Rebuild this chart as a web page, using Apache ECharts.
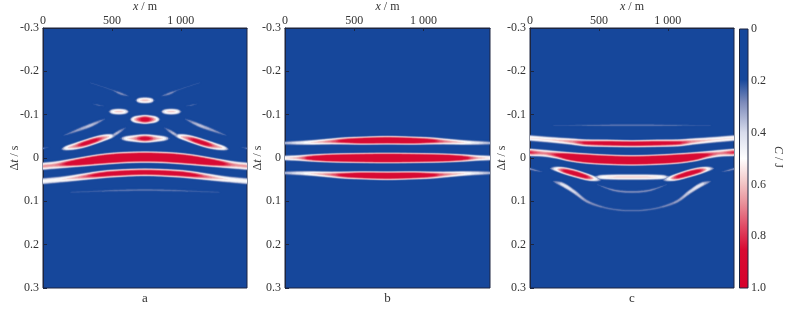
<!DOCTYPE html>
<html><head><meta charset="utf-8">
<style>html,body{margin:0;padding:0;background:#fff}#c{width:798px;height:315px}</style>
<script src="https://cdn.jsdelivr.net/npm/echarts@6/dist/echarts.min.js"></script>
</head><body><div id="c"></div>
<script>
// tick labels
const xTicks = ['0', '500', '1 000'];
const yTicks = [-0.3, -0.2, -0.1, 0, 0.1, 0.2, 0.3];
const barTicks = [0, 0.2, 0.4, 0.6, 0.8, 1.0];
const panelNames = ['a', 'b', 'c'];
// colour scale C -> colour
const scaleValues = [0, 0.196, 0.285, 0.4, 0.5, 0.59, 0.67, 0.76, 0.85, 1.0];
const scaleColors = ['#16479b', '#16479b', '#7d8bbb', '#d8dcec', '#ffffff', '#f3c9c9', '#e9929b', '#e14b66', '#d80a33', '#d6002c'];
// contour levels of C
const levels = [.22,.25,.28,.31,.34,.37,.40,.43,.46,.49,.52,.55,.58,.61,.64,.67,.70,.73,.76,.79,.82,.85];

// ridges: [x (m), dt (s), C (over 1 = saturated core), half thickness (s)]
const aMain = [[0,.019,.68,.0105],[100,.016,.72,.0105],[200,.012,1,.0105],[300,.008,1.3,.0115],[400,.004,1.5,.0125],[500,.001,1.6,.013],[600,-.001,1.6,.013],[740,-.002,1.6,.013],[880,-.001,1.6,.013],[980,.001,1.6,.013],[1080,.004,1.5,.0125],[1180,.008,1.3,.0115],[1280,.012,1,.0105],[1380,.016,.72,.0105],[1480,.019,.68,.0105]];
const aSecond = [[0,.0535,.52,.0095],[150,.049,.56,.009],[300,.043,.75,.009],[400,.039,.95,.009],[500,.036,1.05,.009],[740,.033,1.1,.0085],[980,.036,1.05,.009],[1080,.039,.95,.009],[1180,.043,.75,.009],[1330,.049,.56,.009],[1480,.0535,.52,.0095]];
const aLensL = [[130,-.020,.25,.004],[170,-.023,.55,.0065],[230,-.027,.72,.009],[300,-.033,.95,.0095],[370,-.040,.95,.0095],[440,-.0465,.72,.009],[490,-.05,.55,.0065],[520,-.052,.3,.004]];
const aLensR = [[960,-.052,.3,.004],[990,-.05,.55,.0065],[1040,-.0465,.72,.009],[1110,-.040,.95,.0095],[1180,-.033,.95,.0095],[1250,-.027,.72,.009],[1310,-.023,.55,.0065],[1350,-.020,.25,.004]];
const aLensC = [[560,-.045,.25,.004],[600,-.045,.52,.007],[660,-.045,.68,.0095],[740,-.045,.95,.0105],[820,-.045,.68,.0095],[880,-.045,.52,.007],[920,-.045,.25,.004]];
const aBlob1 = [[630,-.089,.25,.004],[660,-.089,.6,.009],[700,-.089,.85,.0105],[740,-.089,1.05,.011],[780,-.089,.85,.0105],[820,-.089,.6,.009],[850,-.089,.25,.004]];
const aBlob2 = [[670,-.133,.25,.004],[695,-.133,.52,.007],[740,-.133,.62,.0085],[785,-.133,.52,.007],[810,-.133,.25,.004]];
const aPairL = [[475,-.107,.25,.004],[505,-.107,.52,.007],[550,-.107,.6,.0085],[595,-.107,.52,.007],[625,-.107,.25,.004]];
const aPairR = [[855,-.107,.25,.004],[885,-.107,.52,.007],[930,-.107,.6,.0085],[975,-.107,.52,.007],[1005,-.107,.25,.004]];
const aStreakL = [[150,-.052,.24,.005],[250,-.064,.33,.0065],[350,-.076,.38,.007],[450,-.09,.25,.005]];
const aStreakR = [[1030,-.09,.25,.005],[1130,-.076,.38,.007],[1230,-.064,.33,.0065],[1330,-.052,.24,.005]];
const aLinkL = [[480,-.046,.26,.005],[530,-.056,.38,.0065],[600,-.07,.25,.005]];
const aLinkR = [[880,-.07,.25,.005],[950,-.056,.38,.0065],[1000,-.046,.26,.005]];
const aUpL = [[340,-.174,.23,.004],[500,-.157,.25,.005],[560,-.149,.31,.006],[620,-.143,.24,.005]];
const aUpR = [[860,-.143,.24,.005],[920,-.149,.31,.006],[980,-.157,.25,.005],[1140,-.174,.23,.004]];
const aFaintL = [[360,-.125,.23,.003],[400,-.122,.26,.005],[440,-.12,.23,.003]];
const aFaintR = [[1040,-.12,.23,.003],[1080,-.122,.26,.005],[1120,-.125,.23,.003]];
const aEdgeL = [[0,-.022,.28,.005],[40,-.025,.23,.004]];
const aEdgeR = [[1440,-.025,.23,.004],[1480,-.022,.28,.005]];
const aBelow = [[200,.079,.23,.007],[740,.074,.27,.007],[1280,.079,.23,.007]];

const bMid = [[0,0,.55,.007],[100,0,.68,.0075],[180,0,.95,.0085],[300,0,1.4,.0095],[450,0,1.7,.0105],[740,0,1.8,.0115],[1030,0,1.7,.0105],[1180,0,1.4,.0095],[1300,0,.95,.0085],[1380,0,.68,.0075],[1480,0,.55,.007]];
const bUpper = [[0,-.0345,.36,.0055],[100,-.035,.46,.006],[200,-.036,.58,.0065],[320,-.038,.72,.0075],[430,-.0395,.95,.0085],[560,-.04,1.25,.009],[740,-.041,1.35,.0095],[920,-.04,1.25,.009],[1050,-.0395,.95,.0085],[1160,-.038,.72,.0075],[1280,-.036,.58,.0065],[1380,-.035,.46,.006],[1480,-.0345,.36,.0055]];
const bLower = [[0,.0345,.36,.0055],[100,.035,.46,.006],[200,.036,.58,.0065],[320,.038,.72,.0075],[430,.0395,.95,.0085],[560,.04,1.25,.009],[740,.041,1.35,.0095],[920,.04,1.25,.009],[1050,.0395,.95,.0085],[1160,.038,.72,.0075],[1280,.036,.58,.0065],[1380,.035,.46,.006],[1480,.0345,.36,.0055]];

const cFirst = [[0,-.046,.56,.0085],[150,-.042,.58,.0085],[300,-.038,.7,.0085],[400,-.035,.88,.0085],[560,-.034,1,.0085],[740,-.033,1.05,.008],[920,-.034,1,.0085],[1080,-.035,.88,.0085],[1180,-.038,.7,.0085],[1330,-.042,.58,.0085],[1480,-.046,.56,.0085]];
const cSecond = [[0,-.013,.85,.0095],[100,-.011,.72,.0095],[200,-.007,.9,.0095],[280,-.003,1.3,.0105],[400,.001,1.6,.0115],[560,.004,1.7,.0115],[740,.0054,1.7,.0115],[920,.004,1.7,.0115],[1080,.001,1.6,.0115],[1200,-.003,1.3,.0105],[1280,-.007,.9,.0095],[1380,-.011,.72,.0095],[1480,-.013,.85,.0095]];
const cLensL = [[150,.024,.3,.004],[190,.0255,.55,.0065],[250,.0295,.9,.0085],[330,.036,1.05,.009],[410,.0435,.9,.0085],[470,.048,.55,.007],[510,.051,.3,.004]];
const cLensR = [[970,.051,.3,.004],[1010,.048,.55,.007],[1070,.0435,.9,.0085],[1150,.036,1.05,.009],[1230,.0295,.9,.0085],[1290,.0255,.55,.0065],[1330,.024,.3,.004]];
const cCentre = [[470,.044,.3,.003],[520,.044,.52,.0065],[740,.044,.6,.0075],[960,.044,.52,.0065],[1010,.044,.3,.003]];
const cEdgeL = [[0,.025,.32,.0045],[60,.03,.28,.004],[90,.032,.23,.003]];
const cEdgeR = [[1390,.032,.23,.003],[1420,.03,.28,.004],[1480,.025,.32,.0045]];
const cArc = [[170,.054,.26,.005],[240,.062,.45,.0075],[320,.078,.42,.0075],[413,.1,.33,.007],[535,.114,.28,.0065],[656,.1205,.27,.0065],[740,.1215,.27,.0065],[824,.1205,.27,.0065],[945,.114,.28,.0065],[1067,.1,.33,.007],[1160,.078,.42,.0075],[1240,.062,.45,.0075],[1310,.054,.26,.005]];
const cInner = [[488,.0615,.24,.004],[610,.0746,.3,.0055],[740,.0784,.3,.0055],[870,.0746,.3,.0055],[992,.0615,.24,.004]];
const cTop = [[170,-.0755,.23,.004],[740,-.0755,.28,.0055],[1310,-.0755,.23,.004]];

const panels = [
  [aBelow,aEdgeL,aEdgeR,aFaintL,aFaintR,aUpL,aUpR,aLinkL,aLinkR,aStreakL,aStreakR,aPairL,aPairR,aBlob2,aBlob1,aLensC,aLensL,aLensR,aSecond,aMain],
  [bUpper,bLower,bMid],
  [cTop,cInner,cArc,cEdgeL,cEdgeR,cCentre,cLensL,cLensR,cFirst,cSecond]
];

const XMAX = 1480, P = 0.7;
const ink = '#1c2540', txt = '#333', font = '"Liberation Serif","Times New Roman",serif';
const grids = [[43,204],[285,205],[530,204]];
const yNameX = [15,258,502];

function hex(c){return [1,3,5].map(i=>parseInt(c.substr(i,2),16));}
function colorOf(v){
  for(let i=1;i<scaleValues.length;i++){
    if(v<=scaleValues[i]){
      const f=(v-scaleValues[i-1])/(scaleValues[i]-scaleValues[i-1]);
      const a=hex(scaleColors[i-1]),b=hex(scaleColors[i]);
      return 'rgb('+a.map((q,k)=>Math.round(q+(b[k]-q)*f)).join(',')+')';
    }
  }
  return scaleColors[scaleColors.length-1];
}
// smooth sampling between the read stations, only to avoid kinks when drawn
function sample(r){
  const out=[];
  for(let i=0;i<r.length-1;i++){
    const p0=r[Math.max(i-1,0)],p1=r[i],p2=r[i+1],p3=r[Math.min(i+2,r.length-1)];
    const n=Math.max(2,Math.round((p2[0]-p1[0])/12));
    for(let s=0;s<n+(i===r.length-2?1:0);s++){
      const u=s/n,o=[p1[0]+(p2[0]-p1[0])*u];
      for(let k=1;k<4;k++){
        const d1=(p2[k]-p0[k])/Math.max(p2[0]-p0[0],1)*(p2[0]-p1[0]);
        const d2=(p3[k]-p1[k])/Math.max(p3[0]-p1[0],1)*(p2[0]-p1[0]);
        o.push((2*u*u*u-3*u*u+1)*p1[k]+(u*u*u-2*u*u+u)*d1+(-2*u*u*u+3*u*u)*p2[k]+(u*u*u-u*u)*d2);
      }
      out.push(o);
    }
  }
  return out;
}
function contourItem(ridges){
  const fine=ridges.map(sample);
  return function(params,api){
    const L=levels[params.dataIndex], children=[], fill=colorOf(L);
    fine.forEach(r=>{
      let up=[],dn=[];
      const flush=()=>{
        if(up.length>1) children.push({type:'polygon',shape:{points:up.concat(dn.reverse())},style:{fill:fill,shadowBlur:1.5,shadowColor:fill}});
        up=[];dn=[];
      };
      r.forEach(s=>{
        if(s[2]>L){
          const hw=Math.max(s[3],0)*Math.pow(1-L/s[2],P);
          up.push(api.coord([s[0],s[1]-hw]));
          dn.push(api.coord([s[0],s[1]+hw]));
        } else flush();
      });
      flush();
    });
    return {type:'group',children:children};
  };
}

const rich={n:{fontFamily:font,fontSize:12,fill:txt},i:{fontStyle:'italic',fontFamily:font,fontSize:12,fill:txt}};
function nameText(text,x,y,rotation){
  return {type:'text',x:x,y:y,rotation:rotation,silent:true,
    style:{text:text,rich:rich,fontFamily:font,fontSize:12,fill:txt,align:'center',verticalAlign:'middle'}};
}

const grid=[],xAxis=[],yAxis=[],series=[],graphic=[];
grids.forEach((g,i)=>{
  grid.push({left:g[0],top:28,width:g[1],height:260,show:true,backgroundColor:'#16479b',borderColor:ink,borderWidth:1,outerBoundsMode:'none'});
  xAxis.push({type:'value',gridIndex:i,position:'top',min:0,max:XMAX,interval:500,
    axisLine:{onZero:false,lineStyle:{color:ink,width:1}},
    axisTick:{inside:true,length:3,lineStyle:{color:ink}},splitLine:{show:false},
    axisLabel:{margin:1,fontFamily:font,fontSize:12,color:txt,showMaxLabel:false,hideOverlap:false,
      formatter:v=>{const k=v/500;return Number.isInteger(k)&&k<xTicks.length?xTicks[k]:'';}}});
  yAxis.push({type:'value',gridIndex:i,inverse:true,min:yTicks[0],max:yTicks[yTicks.length-1],interval:0.1,
    axisLine:{onZero:false,lineStyle:{color:ink,width:1}},
    axisTick:{inside:true,length:4,lineStyle:{color:ink}},splitLine:{show:false},
    axisLabel:{margin:4,fontFamily:font,fontSize:12,color:txt,formatter:v=>{const r=Math.round(v*10)/10;return yTicks.includes(r)?(r===0?'0':r.toFixed(1)):'';}}});
  series.push({type:'custom',coordinateSystem:'cartesian2d',xAxisIndex:i,yAxisIndex:i,clip:true,silent:true,
    renderItem:contourItem(panels[i]),data:levels.map((L,k)=>[k,L]),encode:{x:0},animation:false});
  graphic.push(nameText('{i|x}{n| / m}',g[0]+g[1]/2,7,0));
  graphic.push(nameText('{n|Δ}{i|t}{n| / s}',yNameX[i],158,Math.PI/2));
  graphic.push({type:'text',x:g[0]+g[1]/2,y:299,silent:true,style:{text:panelNames[i],fontFamily:font,fontSize:13,fill:txt,align:'center',verticalAlign:'middle'}});
});
graphic.push(nameText('{i|C}{n| / J}',778,157,-Math.PI/2));
// colour bar
grid.push({left:739.5,top:29,width:8.5,height:259,show:false,outerBoundsMode:'none'});
xAxis.push({type:'value',gridIndex:3,min:0,max:1,show:false});
yAxis.push({type:'value',gridIndex:3,inverse:true,position:'right',min:0,max:1,interval:0.2,
  axisLine:{show:false},axisTick:{show:false},splitLine:{show:false},
  axisLabel:{margin:3,fontFamily:font,fontSize:12,color:txt,formatter:v=>{const r=Math.round(v*10)/10;return barTicks.includes(r)?(r===0?'0':r.toFixed(1)):'';}}});
series.push({type:'custom',coordinateSystem:'cartesian2d',xAxisIndex:3,yAxisIndex:3,silent:true,clip:false,animation:false,
  data:[[0,0]],encode:{x:0,y:1},
  renderItem:(p,api)=>{
    const a=api.coord([0,0]),b=api.coord([1,1]);
    return {type:'rect',shape:{x:a[0],y:a[1],width:b[0]-a[0],height:b[1]-a[1]},
      style:{fill:new echarts.graphic.LinearGradient(0,0,0,1,scaleValues.map((v,i)=>({offset:v,color:scaleColors[i]}))),stroke:ink,lineWidth:1}};
  }});

const chart=echarts.init(document.getElementById('c'),null,{renderer:'canvas'});
chart.setOption({animation:false,backgroundColor:'#fff',grid,xAxis,yAxis,series,graphic});
</script></body></html>
